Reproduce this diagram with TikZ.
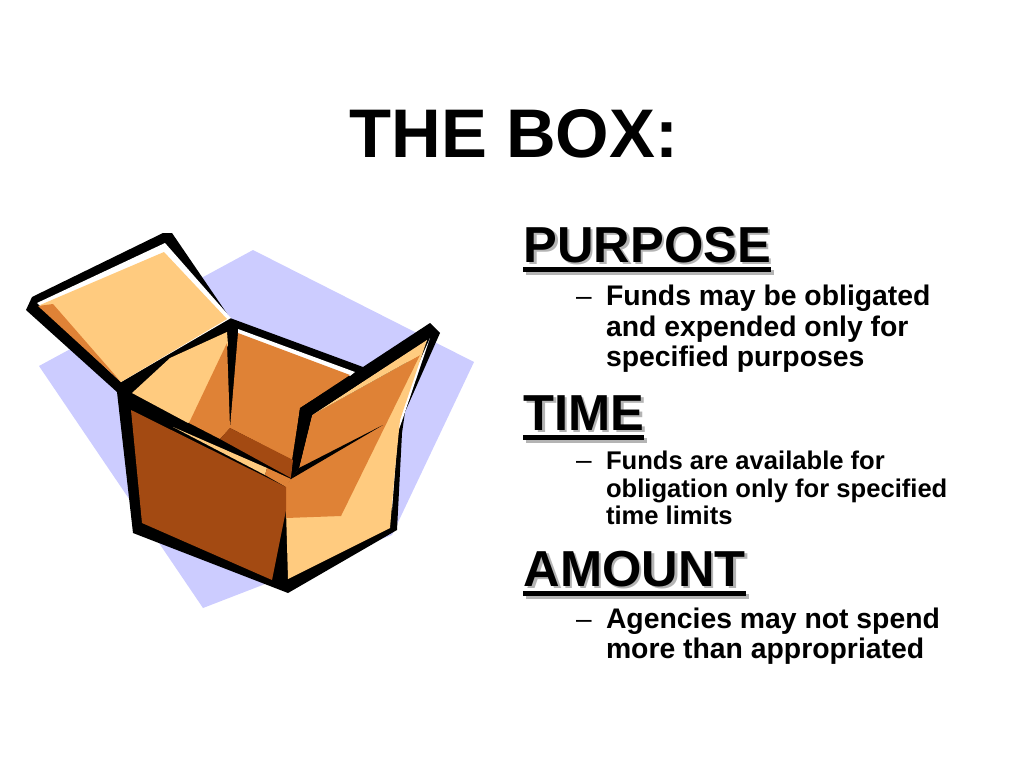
\documentclass[tikz,border=0pt]{standalone}
\usepackage{fontspec}
\setmainfont{Liberation Sans}
\definecolor{lav}{HTML}{CCCCFF}
\definecolor{lite}{HTML}{FFCB7F}
\definecolor{orng}{HTML}{DF8236}
\definecolor{brwn}{HTML}{A34A12}
\definecolor{shad}{HTML}{B4B4B4}
\tikzset{
  lbl/.style={anchor=base west,inner sep=0pt,outer sep=0pt,font=\fontsize{#1}{#1}\selectfont\bfseries},
  head/.style={lbl=50.6},
  dashmark/.style={anchor=base west,inner sep=0pt,outer sep=0pt,font=\fontsize{28}{28}\selectfont}
}
\newcommand{\heading}[4]{%
  \node[head] (#1) at (#2,#3) {\rlap{\hspace{2.5pt}\raisebox{-2.5pt}{\textcolor{shad}{#4}}}#4};
  \fill[shad] ([xshift=2pt,yshift=-7.5pt]#1.base west) rectangle ([xshift=3pt,yshift=-12.5pt]#1.base east);
  \fill[black] ([xshift=-1pt,yshift=-5pt]#1.base west) rectangle ([yshift=-10pt]#1.base east);
}
\begin{document}
\begin{tikzpicture}[x=1pt,y=-1pt]
\useasboundingbox (0,0) rectangle (1024,768);
% backdrop
\fill[lav] (253,250) -- (474,362) -- (392,535) -- (203,608) -- (39,366) -- cycle;
% silhouette
\fill[black] (26,310) -- (32,297) -- (163,233) -- (172,233) -- (230,318) -- (363,367) -- (430,323) -- (440,333) -- (405,412) -- (402,433) -- (397,530) -- (288,593) -- (133,533) -- (117,392) -- cycle;
% lid
\fill[white] (37,303) -- (165,243) -- (231,318) -- (121,382) -- cycle;
\fill[lite] (40,305) -- (164,252) -- (227,319) -- (121,382) -- cycle;
\fill[orng] (38,306) -- (53,304) -- (121,382) -- cycle;
% inner left wall
\fill[lite] (132,393) -- (170,358) -- (227,332) -- (228,345) -- (193,421) -- (188,423) -- cycle;
\fill[orng] (227,343) -- (230,428) -- (220,439) -- (189,423) -- cycle;
% back wall
\fill[white] (238,329) -- (355,372) -- (350,376) -- (238,335) -- cycle;
\fill[orng] (238,333) -- (350,375) -- (300,408) -- (292,460) -- (230,428) -- cycle;
% floor
\fill[brwn] (230,428) -- (293,460) -- (291,478) -- (220,439) -- cycle;
% right wall and flap
\fill[white] (430,338) -- (403,418) -- (398,432) -- (392,510) -- (380,450) -- cycle;
\fill[lite] (427,340) -- (400,420) -- (395,470) -- (390,528) -- (288,579) -- (286,510) -- (340,440) -- cycle;
\fill[orng] (312,415) -- (420,355) -- (341,516) -- (286,518) -- (285,487) -- (291,479) -- (299,468) -- cycle;
\fill[lite] (312,415) -- (427,340) -- (420,355) -- cycle;
\fill[black] (300,408) -- (427,328) -- (427,339) -- (312,415) -- (299,468) -- (291,479) -- cycle;
\fill[black] (291,479) -- (299,468) -- (383,425) -- cycle;
% front face
\fill[lite] (173,427) -- (267,468) -- (265,475) -- cycle;
\fill[orng] (267,468) -- (291,479) -- (286,487) -- (265,475) -- cycle;
\fill[brwn] (131,410) -- (286,487) -- (286,510) -- (272,580) -- (142,523) -- cycle;
% text
\node[lbl=68.8,anchor=base] (title) at (514,157) {THE BOX:};
\heading{purpose}{523.5}{262}{PURPOSE}
\heading{timehd}{523.5}{430}{TIME}
\heading{amount}{523.5}{586}{AMOUNT}
\node[dashmark] (d1) at (576,305) {–};
\node[lbl=28.35] (a1) at (606,305) {Funds may be obligated};
\node[lbl=28.35] (a2) at (606,336) {and expended only for};
\node[lbl=28.35] (a3) at (606,366) {specified purposes};
\node[dashmark] (d2) at (576,469) {–};
\node[lbl=25.6] (b1) at (606,469) {Funds are available for};
\node[lbl=25.6] (b2) at (606,497) {obligation only for specified};
\node[lbl=25.6] (b3) at (606,524) {time limits};
\node[dashmark] (d3) at (576,628) {–};
\node[lbl=28.35] (c1) at (606,628) {Agencies may not spend};
\node[lbl=28.35] (c2) at (606,658) {more than appropriated};
\end{tikzpicture}
\end{document}
